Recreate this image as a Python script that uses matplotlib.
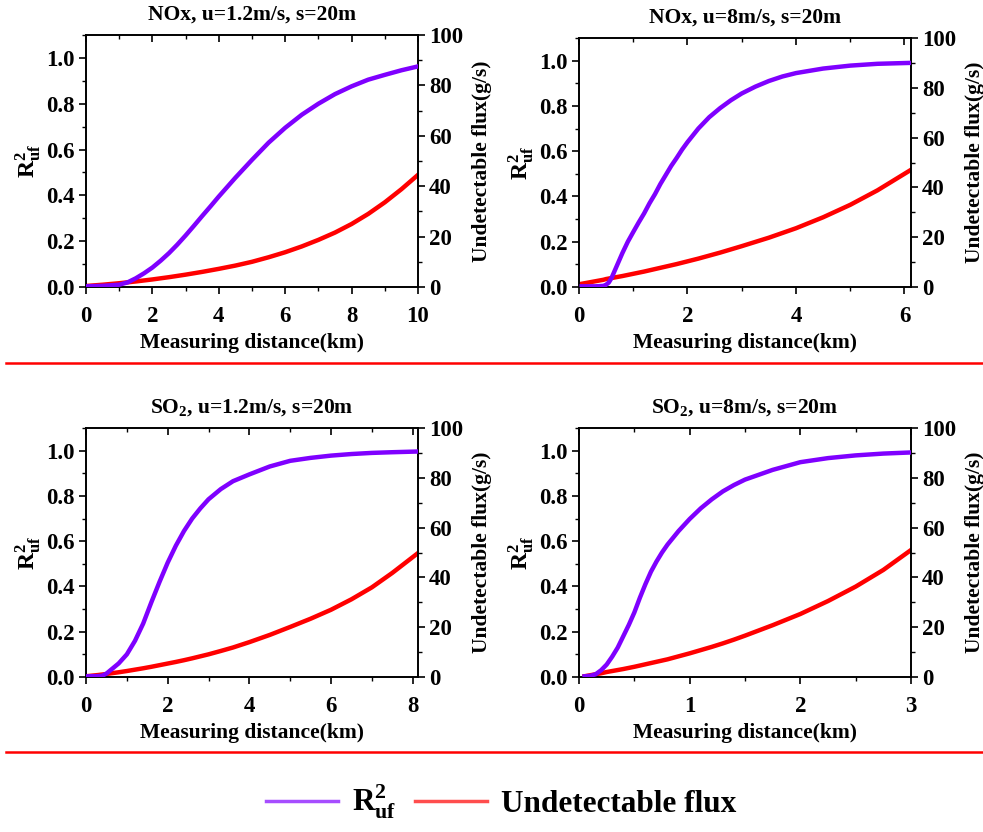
import matplotlib
matplotlib.use("Agg")
import matplotlib.pyplot as plt
from matplotlib.lines import Line2D
from matplotlib.ticker import MultipleLocator, FormatStrFormatter

plt.rcParams["font.family"] = "Liberation Serif"
plt.rcParams["font.weight"] = "bold"
plt.rcParams["mathtext.fontset"] = "custom"
plt.rcParams["mathtext.rm"] = "Liberation Serif:bold"
plt.rcParams["mathtext.bf"] = "Liberation Serif:bold"
plt.rcParams["mathtext.it"] = "Liberation Serif:bold"

# NOx, u=1.2 m/s
nox12_x = [0, 0.5, 1, 1.25, 1.5, 1.75, 2, 2.25, 2.5, 2.75, 3, 3.25, 3.5, 3.75, 4, 4.5,
           5, 5.5, 6, 6.5, 7, 7.5, 8, 8.5, 9, 9.5, 10]
nox12_r2 = [0.003, 0.005, 0.01, 0.02, 0.038, 0.06, 0.085, 0.115, 0.148, 0.185, 0.225,
            0.267, 0.31, 0.352, 0.395, 0.477, 0.555, 0.63, 0.695, 0.752, 0.80, 0.842,
            0.876, 0.905, 0.926, 0.946, 0.963]
nox12_flux = [0.4, 0.9, 1.5, 1.85, 2.2, 2.6, 3.0, 3.45, 3.9, 4.4, 4.9, 5.45, 6.0, 6.6,
              7.2, 8.5, 10.0, 11.8, 13.8, 16.1, 18.7, 21.6, 25.0, 29.0, 33.6, 38.8, 44.5]

# NOx, u=8 m/s
nox8_x = [0.05, 0.3, 0.45, 0.5, 0.55, 0.6, 0.7, 0.8, 0.9, 1.0, 1.1, 1.2, 1.3, 1.4, 1.5,
          1.6, 1.7, 1.8, 1.9, 2.0, 2.2, 2.4, 2.6, 2.8, 3.0, 3.25, 3.5, 3.75, 4.0, 4.5,
          5.0, 5.5, 6.1]
nox8_r2 = [0.003, 0.003, 0.005, 0.01, 0.02, 0.04, 0.095, 0.15, 0.2, 0.243, 0.285, 0.325,
           0.37, 0.41, 0.455, 0.495, 0.535, 0.57, 0.607, 0.64, 0.70, 0.75, 0.79, 0.825,
           0.855, 0.885, 0.91, 0.93, 0.945, 0.965, 0.978, 0.986, 0.99]
nox8_flux = [1.3, 2.3, 2.9, 3.2, 3.4, 3.6, 4.0, 4.4, 4.85, 5.3, 5.75, 6.2, 6.7, 7.2, 7.7,
             8.2, 8.7, 9.2, 9.75, 10.3, 11.4, 12.6, 13.8, 15.1, 16.4, 18.1, 19.8, 21.7,
             23.6, 28.0, 33.0, 38.8, 46.8]

# SO2, u=1.2 m/s
so212_x = [0, 0.3, 0.4, 0.5, 0.6, 0.8, 1.0, 1.2, 1.4, 1.6, 1.8, 2.0, 2.2, 2.4, 2.6, 2.8,
           3.0, 3.3, 3.6, 4.0, 4.5, 5.0, 5.5, 6.0, 6.5, 7.0, 7.5, 8.1]
so212_r2 = [0.003, 0.004, 0.006, 0.015, 0.03, 0.06, 0.10, 0.16, 0.236, 0.33, 0.42, 0.505,
            0.58, 0.645, 0.70, 0.745, 0.785, 0.83, 0.865, 0.895, 0.93, 0.955, 0.968,
            0.978, 0.985, 0.99, 0.993, 0.996]
so212_flux = [0.3, 0.8, 1.0, 1.2, 1.45, 1.9, 2.4, 2.95, 3.5, 4.1, 4.75, 5.4, 6.05, 6.75,
              7.5, 8.3, 9.1, 10.45, 11.85, 14.0, 16.9, 20.1, 23.4, 27.0, 31.2, 36.0,
              41.8, 49.4]

# SO2, u=8 m/s
so28_x = [0.05, 0.1, 0.15, 0.2, 0.25, 0.3, 0.35, 0.4, 0.45, 0.5, 0.55, 0.6, 0.65, 0.7,
          0.75, 0.8, 0.9, 1.0, 1.1, 1.2, 1.3, 1.4, 1.5, 1.75, 2.0, 2.25, 2.5, 2.75, 3.0]
so28_r2 = [0.003, 0.005, 0.012, 0.03, 0.055, 0.09, 0.13, 0.18, 0.23, 0.285, 0.35, 0.41,
           0.465, 0.51, 0.55, 0.585, 0.645, 0.698, 0.745, 0.785, 0.82, 0.848, 0.872,
           0.915, 0.949, 0.967, 0.979, 0.987, 0.992]
so28_flux = [0.3, 0.7, 1.1, 1.5, 2.0, 2.4, 2.8, 3.2, 3.65, 4.1, 4.6, 5.1, 5.6, 6.1, 6.6,
             7.1, 8.3, 9.5, 10.8, 12.1, 13.5, 15.0, 16.6, 20.8, 25.3, 30.5, 36.3, 43.0,
             51.0]

titles = ["NOx, u=1.2m/s, s=20m", "NOx, u=8m/s, s=20m",
          "SO$_2$, u=1.2m/s, s=20m", "SO$_2$, u=8m/s, s=20m"]
xs = [nox12_x, nox8_x, so212_x, so28_x]
r2s = [nox12_r2, nox8_r2, so212_r2, so28_r2]
fluxes = [nox12_flux, nox8_flux, so212_flux, so28_flux]
xmaxs = [10.0, 6.12, 8.13, 3.0]
x_major = [2, 2, 2, 1]
x_minor = [1, 1, 1, 0.5]

# axes boxes in pixels: left, top, right, bottom
boxes = [(86, 35, 418, 287), (579, 38, 911, 287), (86, 428, 418, 677), (579, 428, 911, 677)]

W, H = 983, 832
fig = plt.figure(figsize=(W / 100, H / 100), dpi=100)

purple = "#7f00ff"
red = "#ff0000"
fs = 15.5

for i, (l, t, r, b) in enumerate(boxes):
    ax = fig.add_axes([l / W, 1 - b / H, (r - l) / W, (b - t) / H])
    ax2 = ax.twinx()
    ax.plot(xs[i], r2s[i], color=purple, lw=3.2, zorder=3)
    ax2.plot(xs[i], fluxes[i], color=red, lw=3.2)
    ax.set_zorder(ax2.get_zorder() + 1)
    ax.patch.set_visible(False)

    ax.set_xlim(0, xmaxs[i])
    ax.set_ylim(0, 1.1)
    ax2.set_ylim(0, 100)
    ax.xaxis.set_major_locator(MultipleLocator(x_major[i]))
    ax.xaxis.set_minor_locator(MultipleLocator(x_minor[i]))
    ax.yaxis.set_major_locator(MultipleLocator(0.2))
    ax.yaxis.set_minor_locator(MultipleLocator(0.1))
    ax.yaxis.set_major_formatter(FormatStrFormatter("%.1f"))
    ax2.yaxis.set_major_locator(MultipleLocator(20))
    ax2.yaxis.set_minor_locator(MultipleLocator(10))

    ax.tick_params(axis="both", which="major", direction="out", length=5, width=1.2,
                   labelsize=16.5, pad=3)
    ax.tick_params(axis="both", which="minor", direction="out", length=3, width=1.0)
    ax.tick_params(axis="x", which="both", top=True)
    ax.tick_params(axis="x", which="major", pad=9)
    ax2.tick_params(axis="y", which="major", direction="out", length=5, width=1.2,
                    labelsize=16.5, pad=3)
    ax2.tick_params(axis="y", which="minor", direction="out", length=3, width=1.0)
    # top ticks point inward
    for tk in ax.xaxis.get_major_ticks() + ax.xaxis.get_minor_ticks():
        tk.tick2line.set_marker(matplotlib.markers.TICKDOWN)

    for sp in list(ax.spines.values()) + list(ax2.spines.values()):
        sp.set_linewidth(1.2)

    ax.set_title(titles[i], fontsize=fs, fontweight="bold", pad=11)
    ax.set_xlabel("Measuring distance(km)", fontsize=fs, fontweight="bold", labelpad=4)
    ax.set_ylabel(r"$\mathbf{R^2_{uf}}$", fontsize=17, labelpad=2)
    ax2.set_ylabel("Undetectable flux(g/s)", fontsize=fs, fontweight="bold", labelpad=6)

# red separators
for y in (362.5, 752):
    fig.add_artist(Line2D([6 / W, 1.0], [1 - y / H, 1 - y / H], color=red, lw=1.8))

handles = [Line2D([], [], color="#a64dff", lw=2.5), Line2D([], [], color="#ff4d4d", lw=2.5)]
fig.legend(handles, [r"$\mathbf{R^2_{uf}}$", "Undetectable flux"], loc="center",
           bbox_to_anchor=(0.51, 1 - 802 / H), ncol=2, frameon=False,
           prop={"family": "Liberation Serif", "weight": "bold", "size": 22.5},
           handlelength=2.3, handletextpad=0.45, columnspacing=0.6)

fig.savefig("out.png", dpi=100)
